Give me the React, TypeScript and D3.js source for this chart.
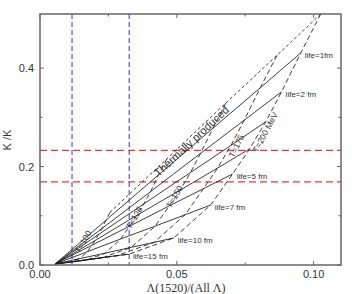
import React from 'react';
import * as d3 from 'd3';

// lifetimes of the fireball (fm); index 0 = thermally produced
const lifetimes = [0, 1, 2, 3, 4, 5, 7, 10, 15];
const lifeLabels = ['', 'life=1fm', 'life=2 fm', '', '', 'life=5 fm', 'life=7 fm', 'life=10 fm', 'life=15 fm'];

// point where all curves converge (infinite lifetime)
const convergence: [number, number] = [0.0055, 0.002];

// [Lambda(1520)/Lambda, K*/K] for each temperature, ordered by lifetime
const curveT100: [number, number][] = [
  [0.0256, 0.107], [0.0241, 0.091], [0.0226, 0.074], [0.0214, 0.062], [0.0202, 0.05],
  [0.0189, 0.04], [0.0173, 0.027], [0.0145, 0.013], [0.0111, 0.006],
];
const curveT125: [number, number][] = [
  [0.0464, 0.216], [0.0433, 0.183], [0.0404, 0.149], [0.0379, 0.124], [0.0354, 0.101],
  [0.0328, 0.079], [0.0295, 0.053], [0.0238, 0.024], [0.0169, 0.01],
];
const curveT150: [number, number][] = [
  [0.0679, 0.329], [0.0632, 0.278], [0.0587, 0.227], [0.055, 0.188], [0.0512, 0.152],
  [0.0472, 0.12], [0.0421, 0.079], [0.0334, 0.036], [0.0229, 0.015],
];
const curveT175: [number, number][] = [
  [0.0866, 0.426], [0.0805, 0.36], [0.0746, 0.294], [0.0698, 0.243], [0.0649, 0.197],
  [0.0597, 0.155], [0.053, 0.102], [0.0417, 0.046], [0.0281, 0.019],
];
const curveT200: [number, number][] = [
  [0.1026, 0.51], [0.0953, 0.431], [0.0883, 0.352], [0.0825, 0.291], [0.0766, 0.236],
  [0.0704, 0.185], [0.0624, 0.122], [0.0489, 0.055], [0.0325, 0.022],
];
const tempCurves = [curveT100, curveT125, curveT150, curveT175, curveT200];
const tempLabels = ['T=100', 'T=125', 'T=150', 'T=175', 'T=200 MeV'];

// experimental bands
const lambdaRatioLimits = [0.0117, 0.0326];
const kstarRatioLimits = [0.169, 0.233];

const xTicks = [0, 0.05, 0.1];
const xMinorTicks = [0.025, 0.075];
const yTicks = [0, 0.2, 0.4];
const yMinorTicks = [0.1, 0.3];

const W = 352;
const H = 294;
const left = 40, right = 341, top = 14, bottom = 265;

export default function App() {
  const x = d3.scaleLinear().domain([0, 0.11]).range([left, right]);
  const y = d3.scaleLinear().domain([0, 0.51]).range([bottom, top]);
  const line = d3.line<[number, number]>().x((d) => x(d[0])).y((d) => y(d[1]));

  const thermal = tempCurves.map((c) => c[0]);
  const lifeLines = lifetimes.slice(1).map((_, k) => {
    const i = k + 1;
    return [convergence, ...tempCurves.map((c) => c[i])] as [number, number][];
  });

  // where each temperature label sits: [lifetime index, dx, dy, angle]
  const tempLabelPos = [
    [5, -6, -2, -60],
    [4, 0, 4, -60],
    [4, -3, 8, -60],
    [3, 8, 2, -64],
    [3, 2, 12, -62],
  ];

  const font = 'Liberation Sans, Arial, sans-serif';
  const frame = '#666';

  return (
    <svg width={W} height={H} style={{ position: 'absolute', left: 0, top: 0, background: '#fff' }}>
      {/* experimental limits */}
      {lambdaRatioLimits.map((v) => (
        <line key={'b' + v} x1={x(v)} x2={x(v)} y1={top} y2={bottom}
          stroke="#4444d6" strokeWidth={1.1} strokeDasharray="5,3" />
      ))}
      {kstarRatioLimits.map((v) => (
        <line key={'r' + v} x1={left} x2={right} y1={y(v)} y2={y(v)}
          stroke="#e8383a" strokeWidth={1.2} strokeDasharray="7,4" />
      ))}

      {/* constant lifetime lines */}
      {lifeLines.map((pts, k) => (
        <path key={'l' + k} d={line(pts) || ''} fill="none" stroke="#1a1a1a" strokeWidth={0.85} />
      ))}
      {/* thermally produced */}
      <path d={line(thermal) || ''} fill="none" stroke="#1a1a1a" strokeWidth={0.85} strokeDasharray="3,2.5" />
      {/* constant temperature lines */}
      {tempCurves.map((c, k) => (
        <path key={'t' + k} d={line([...c, convergence]) || ''} fill="none" stroke="#1a1a1a"
          strokeWidth={0.85} strokeDasharray="5,3" />
      ))}

      {/* lifetime labels */}
      {lifeLabels.map((t, i) => t ? (
        <text key={'ll' + i} x={x(curveT200[i][0]) + 4} y={y(curveT200[i][1]) + 5}
          fontFamily={font} fontSize={8} fill="#333">{t}</text>
      ) : null)}

      {/* temperature labels */}
      {tempLabels.map((t, k) => {
        const [i, dx, dy, a] = tempLabelPos[k];
        const p = tempCurves[k][i];
        const px = x(p[0]) + dx, py = y(p[1]) + dy;
        return (
          <text key={'tl' + k} transform={`translate(${px},${py}) rotate(${a})`} textAnchor="middle"
            fontFamily={font} fontSize={8.5} fill="#333">{t}</text>
        );
      })}
      <text transform={`translate(${x(0.0545) + 5},${y(0.26) + 7}) rotate(-43)`} textAnchor="middle"
        fontFamily={font} fontSize={11} fill="#333">Thermally produced</text>

      {/* frame and ticks */}
      <rect x={left} y={top} width={right - left} height={bottom - top} fill="none" stroke={frame} strokeWidth={1.5} />
      {xTicks.map((v) => (
        <g key={'xt' + v}>
          <line x1={x(v)} x2={x(v)} y1={bottom} y2={bottom - 4} stroke={frame} />
          <line x1={x(v)} x2={x(v)} y1={top} y2={top + 4} stroke={frame} />
          <text x={x(v)} y={bottom + 13} textAnchor="middle" fontFamily={font} fontSize={11} fill="#333">
            {d3.format('.2f')(v)}
          </text>
        </g>
      ))}
      {xMinorTicks.map((v) => (
        <g key={'xm' + v}>
          <line x1={x(v)} x2={x(v)} y1={bottom} y2={bottom - 2.5} stroke={frame} />
          <line x1={x(v)} x2={x(v)} y1={top} y2={top + 2.5} stroke={frame} />
        </g>
      ))}
      {yTicks.map((v) => (
        <g key={'yt' + v}>
          <line x1={left} x2={left + 4} y1={y(v)} y2={y(v)} stroke={frame} />
          <line x1={right} x2={right - 4} y1={y(v)} y2={y(v)} stroke={frame} />
          <text x={34} y={y(v) + 4} textAnchor="end" fontFamily={font} fontSize={11} fill="#333">
            {d3.format('.1f')(v)}
          </text>
        </g>
      ))}
      {yMinorTicks.map((v) => (
        <g key={'ym' + v}>
          <line x1={left} x2={left + 2.5} y1={y(v)} y2={y(v)} stroke={frame} />
          <line x1={right} x2={right - 2.5} y1={y(v)} y2={y(v)} stroke={frame} />
        </g>
      ))}

      {/* axis titles */}
      <text x={186} y={292} textAnchor="middle" fontFamily="Liberation Serif, Times New Roman, serif"
        fontSize={12} fill="#333">Λ(1520)/(All Λ)</text>
      <text transform="translate(11,140) rotate(-90)" textAnchor="middle" fontFamily={font}
        fontSize={11} fill="#333">K /K</text>
    </svg>
  );
}
